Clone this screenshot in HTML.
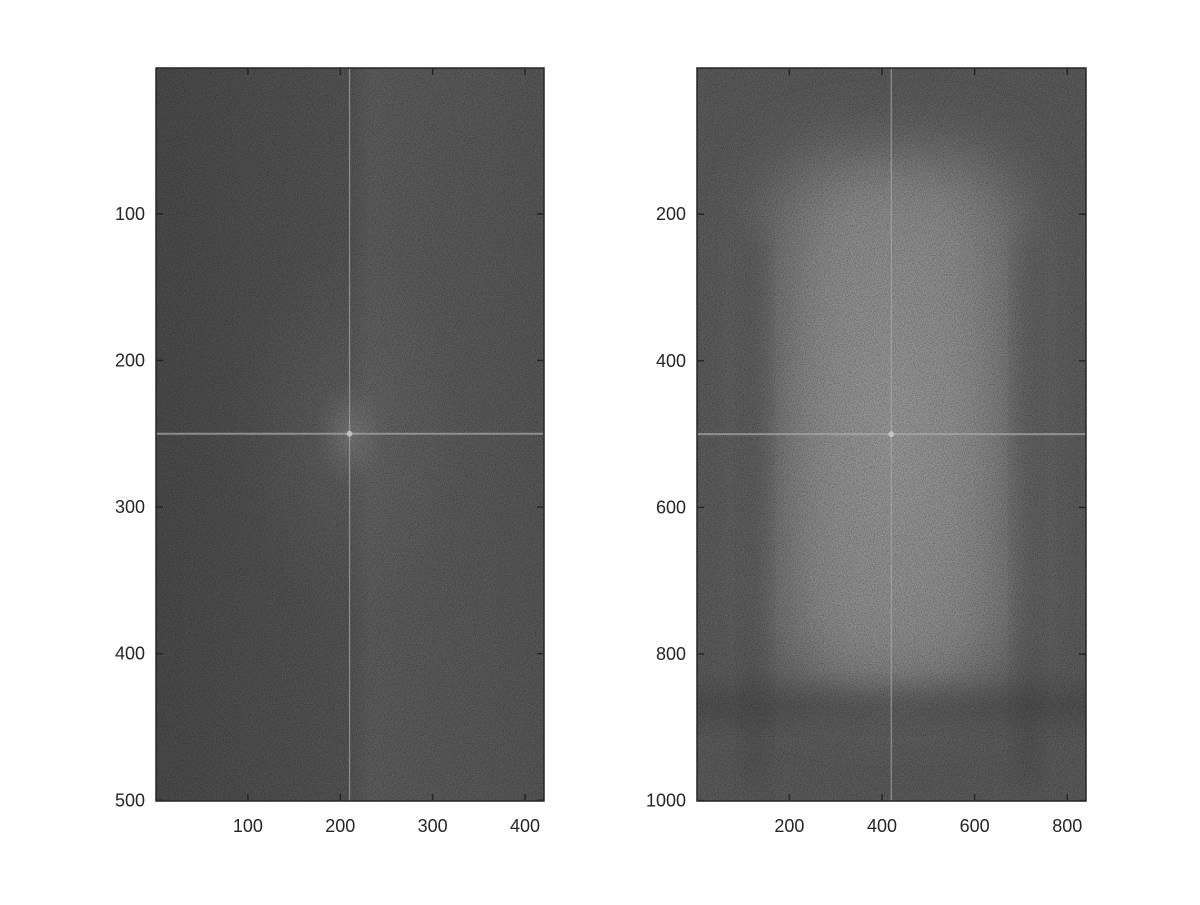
<!DOCTYPE html>
<html><head><meta charset="utf-8"><style>
body{margin:0;background:#fff;}
svg text{font-family:"Liberation Sans",sans-serif;font-size:18px;fill:#262626;}
</style></head><body>
<svg id="fig" width="1200" height="900">
<defs>
<filter id="noise" x="0" y="0" width="100%" height="100%">
<feTurbulence type="fractalNoise" baseFrequency="0.9" numOctaves="2" seed="3"/>
<feColorMatrix type="matrix" values="0 0 0 0 0  0 0 0 0 0  0 0 0 0 0  -1.2 0 0 0 0.75"/>
</filter>
<filter id="blur" x="-50%" y="-50%" width="200%" height="200%"><feGaussianBlur stdDeviation="35"/></filter>
<filter id="blur2" x="-50%" y="-50%" width="200%" height="200%"><feGaussianBlur stdDeviation="12"/></filter>
<clipPath id="clipL"><rect x="156" y="68" width="388" height="733"/></clipPath>
<clipPath id="clipR"><rect x="697" y="68" width="389" height="733"/></clipPath>
<radialGradient id="lglow" cx="0.5" cy="0.5" r="0.5">
<stop offset="0" stop-color="#999" stop-opacity="0.5"/>
<stop offset="0.3" stop-color="#777" stop-opacity="0.2"/>
<stop offset="1" stop-color="#777" stop-opacity="0"/>
</radialGradient>
<linearGradient id="lbase" x1="0" y1="0" x2="1" y2="0">
<stop offset="0" stop-color="#4a4a4a"/><stop offset="0.5" stop-color="#535353"/><stop offset="0.55" stop-color="#5c5c5c"/><stop offset="1" stop-color="#565656"/>
</linearGradient>
<radialGradient id="rglow" cx="0.5" cy="0.5" r="0.5">
<stop offset="0" stop-color="#a0a0a0" stop-opacity="0.6"/>
<stop offset="1" stop-color="#a0a0a0" stop-opacity="0"/>
</radialGradient>
</defs>
<g id="left"></g>
<g id="right"></g>
</svg>
<script>
const leftCols = 420, leftRows = 500;
const rightCols = 840, rightRows = 1000;
const leftXTicks = [100, 200, 300, 400];
const leftYTicks = [100, 200, 300, 400, 500];
const rightXTicks = [200, 400, 600, 800];
const rightYTicks = [200, 400, 600, 800, 1000];
const leftCenter = [210, 250];
const rightCenter = [420, 500];
const rightBright = [170, 690, 120, 850];
const rightBandsX = [125, 715];
const rightBandsY = [870];
const NS = "http://www.w3.org/2000/svg";
function mk(p, t, a) { const e = document.createElementNS(NS, t); for (const k in a) e.setAttribute(k, a[k]); p.appendChild(e); return e; }

function panel(g0, x0, x1, y0, y1, cols, rows, xt, yt, center, right) {
  const sx = v => x0 + (v - 0.5) / cols * (x1 - x0);
  const sy = v => y0 + (v - 0.5) / rows * (y1 - y0);
  const W = x1 - x0, H = y1 - y0;
  const g = mk(g0, "g", {"clip-path": right ? "url(#clipR)" : "url(#clipL)"});
  let r;
  if (!right) {
    r = mk(g, "rect", {x: x0, y: y0, width: W, height: H, fill: "url(#lbase)"});
    
    
    mk(g, "ellipse", {cx: sx(center[0]), cy: sy(center[1]), rx: W * 0.3, ry: H * 0.25, fill: "url(#lglow)"});
  } else {
    r = mk(g, "rect", {x: x0, y: y0, width: W, height: H, fill: "#5a5a5a"});
    
    
    mk(g, "rect", {x: sx(rightBright[0]), y: sy(rightBright[2]), width: sx(rightBright[1]) - sx(rightBright[0]), height: sy(rightBright[3]) - sy(rightBright[2]), rx: 70, fill: "#888", filter: "url(#blur)"});
    mk(g, "ellipse", {cx: sx(center[0]), cy: sy(center[1]), rx: W * 0.3, ry: H * 0.4, fill: "url(#rglow)"});
    rightBandsX.forEach(b => {
      const w = 22 / cols * W;
      mk(g, "rect", {x: sx(b) - w, y: sy(230), width: 2 * w, height: sy(980) - sy(230), fill: "#3a3a3a", opacity: 0.3, filter: "url(#blur2)"});
    });
    rightBandsY.forEach(b => {
      const h = 22 / rows * H;
      mk(g, "rect", {x: x0 - 30, y: sy(b) - h, width: W + 60, height: 2 * h, fill: "#3a3a3a", opacity: 0.35, filter: "url(#blur2)"});
    });
  }
  mk(g, "rect", {x: x0, y: y0, width: W, height: H, filter: "url(#noise)", opacity: 0.5});
  const cx = sx(center[0]), cy = sy(center[1]);
  let l = mk(g, "line", {x1: cx, y1: y0, x2: cx, y2: y1, stroke: "#aaa", "stroke-width": 1.2, opacity: 0.7});
  
  
  l = mk(g, "line", {x1: x0, y1: cy, x2: x1, y2: cy, stroke: "#aaa", "stroke-width": 2, opacity: 0.7});
  
  
  mk(g, "circle", {cx: cx, cy: cy, r: 3, fill: "#ddd", opacity: 0.6});
  const box = mk(g0, "rect", {x: x0, y: y0, width: W, height: H, fill: "none", stroke: "#262626", "stroke-width": 1.5});
  
  
  xt.forEach(v => {
    const x = sx(v);
    mk(g0, "line", {x1: x, y1: y1, x2: x, y2: y1 - 7, stroke: "#262626", "stroke-width": 1.5});
    mk(g0, "line", {x1: x, y1: y0, x2: x, y2: y0 + 7, stroke: "#262626", "stroke-width": 1.5});
    const t = mk(g0, "text", {x: x, y: y1 + 31, "text-anchor": "middle"});
    t.textContent = v;
    
    
  });
  yt.forEach(v => {
    const y = sy(v);
    mk(g0, "line", {x1: x0, y1: y, x2: x0 + 7, y2: y, stroke: "#262626", "stroke-width": 1.5});
    mk(g0, "line", {x1: x1, y1: y, x2: x1 - 7, y2: y, stroke: "#262626", "stroke-width": 1.5});
    const t = mk(g0, "text", {x: x0 - 11, y: y + 6, "text-anchor": "end"});
    t.textContent = v;
    
    
  });
}
panel(document.getElementById("left"), 156, 544, 68, 801, leftCols, leftRows, leftXTicks, leftYTicks, leftCenter, false);
panel(document.getElementById("right"), 697, 1086, 68, 801, rightCols, rightRows, rightXTicks, rightYTicks, rightCenter, true);
</script>
</body></html>
